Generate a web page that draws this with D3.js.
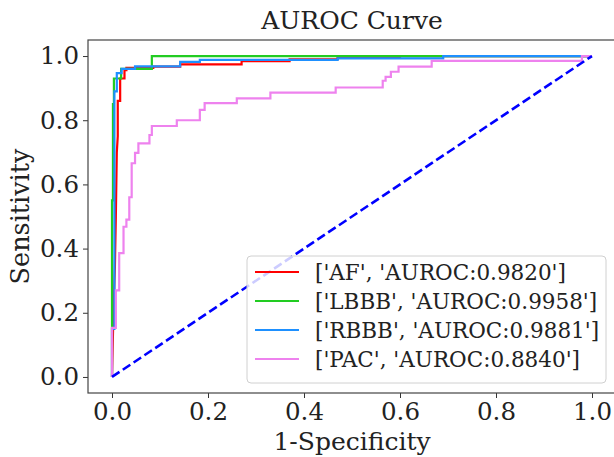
<!DOCTYPE html>
<html>
<head>
<meta charset="utf-8">
<script src="https://cdn.jsdelivr.net/npm/d3@7"></script>
<style>
  body { margin: 0; background: #fff; }
  svg { display: block; font-family: "DejaVu Serif", serif; }
</style>
</head>
<body>
<div id="chart"></div>
<script>
var width = 614, height = 457;
var margin = {top: 40, right: -2, bottom: 64, left: 88};

// ROC step curves: [1-specificity, sensitivity]
var afPts = [[0,0],[0.003,0.2],[0.006,0.34],[0.008,0.5],[0.01,0.7],[0.012,0.75],[0.012,0.86],[0.017,0.86],[0.017,0.93],
  [0.026,0.93],[0.026,0.956],[0.03,0.956],[0.03,0.963],[0.086,0.963],[0.086,0.967],[0.142,0.967],[0.142,0.974],
  [0.27,0.974],[0.27,0.984],[0.37,0.984],[0.37,0.99],[0.47,0.99],[0.47,0.996],[0.6,0.996],[0.6,1],[1,1]];
var lbbbPts = [[0,0],[0,0.55],[0.002,0.55],[0.002,0.85],[0.004,0.85],[0.004,0.93],[0.019,0.93],[0.019,0.96],
  [0.083,0.96],[0.083,1],[1,1]];
var rbbbPts = [[0,0],[0,0.15],[0.005,0.15],[0.005,0.89],[0.01,0.89],[0.01,0.947],[0.02,0.947],[0.02,0.96],
  [0.048,0.96],[0.048,0.968],[0.142,0.968],[0.142,0.982],[0.183,0.982],[0.183,0.988],[0.47,0.988],[0.47,0.993],
  [0.69,0.993],[0.69,1],[1,1]];
var pacPts = [[0,0],[0,0.153],[0.008,0.153],[0.008,0.27],[0.015,0.27],[0.015,0.386],[0.024,0.386],[0.024,0.468],
  [0.03,0.468],[0.03,0.49],[0.036,0.49],[0.036,0.56],[0.041,0.56],[0.041,0.666],[0.048,0.666],[0.048,0.698],
  [0.055,0.698],[0.055,0.728],[0.078,0.728],[0.078,0.754],[0.083,0.754],[0.083,0.782],[0.135,0.782],[0.135,0.8],
  [0.183,0.8],[0.183,0.832],[0.193,0.832],[0.193,0.853],[0.26,0.853],[0.26,0.868],[0.33,0.868],[0.33,0.886],
  [0.466,0.886],[0.466,0.902],[0.564,0.902],[0.564,0.923],[0.57,0.923],[0.57,0.935],[0.581,0.935],[0.581,0.951],
  [0.597,0.951],[0.597,0.967],[0.666,0.967],[0.666,0.985],[0.979,0.985],[0.979,1],[1,1]];
var diagPts = [[0,0],[1,1]];

var seriesNames = ["AF", "LBBB", "RBBB", "PAC"];
var seriesAuc = ["0.9820", "0.9958", "0.9881", "0.8840"];
var seriesColors = ["#ff0000", "#22cc22", "#1e90ff", "#ee82ee"];
var seriesPts = [afPts, lbbbPts, rbbbPts, pacPts];

var xTicks = [0, 0.2, 0.4, 0.6, 0.8, 1.0];
var yTicks = [0, 0.2, 0.4, 0.6, 0.8, 1.0];

var svg = d3.select("#chart").append("svg")
    .attr("width", width)
    .attr("height", height);

var x = d3.scaleLinear().domain([-0.05, 1.05]).range([margin.left, width - margin.right]);
var y = d3.scaleLinear().domain([-0.05, 1.05]).range([height - margin.bottom, margin.top]);

var line = d3.line()
    .x(function(d) { return x(d[0]); })
    .y(function(d) { return y(d[1]); });

var plot = svg.append("g");

seriesPts.forEach(function(pts, i) {
  plot.append("path")
    .datum(pts)
    .attr("d", line)
    .attr("fill", "none")
    .attr("stroke", seriesColors[i])
    .attr("stroke-width", 2.2)
    .attr("stroke-linejoin", "miter");
});

plot.append("path")
  .datum(diagPts)
  .attr("d", line)
  .attr("fill", "none")
  .attr("stroke", "#0000ff")
  .attr("stroke-width", 2.6)
  .attr("stroke-dasharray", "9,4");

// axes
var xAxis = svg.append("g")
    .attr("transform", "translate(0," + (height - margin.bottom) + ")")
    .call(d3.axisBottom(x).tickValues(xTicks).tickFormat(d3.format(".1f")).tickSize(5).tickSizeOuter(0));
var yAxis = svg.append("g")
    .attr("transform", "translate(" + margin.left + ",0)")
    .call(d3.axisLeft(y).tickValues(yTicks).tickFormat(d3.format(".1f")).tickSize(5).tickSizeOuter(0));

[xAxis, yAxis].forEach(function(a) {
  a.select(".domain").remove();
  a.selectAll("line").attr("stroke", "#333");
  a.selectAll("text")
    .attr("font-family", "DejaVu Serif")
    .attr("font-size", 24.5)
    .attr("fill", "#222");
});
xAxis.selectAll("text").attr("dy", "0.77em");
yAxis.selectAll("text").attr("x", -9);

// frame
svg.append("rect")
  .attr("x", margin.left)
  .attr("y", margin.top)
  .attr("width", width - margin.right - margin.left)
  .attr("height", height - margin.bottom - margin.top)
  .attr("fill", "none")
  .attr("stroke", "#444")
  .attr("stroke-width", 1.2);

// title and labels
var cx = (margin.left + width - margin.right) / 2;
svg.append("text")
  .attr("x", cx).attr("y", 29)
  .attr("text-anchor", "middle")
  .attr("font-size", 25)
  .attr("fill", "#222")
  .text("AUROC Curve");

svg.append("text")
  .attr("x", cx).attr("y", 450)
  .attr("text-anchor", "middle")
  .attr("font-size", 25)
  .attr("fill", "#222")
  .text("1-Specificity");

svg.append("text")
  .attr("transform", "translate(29," + ((margin.top + height - margin.bottom) / 2) + ") rotate(-90)")
  .attr("text-anchor", "middle")
  .attr("font-size", 25.5)
  .attr("fill", "#222")
  .text("Sensitivity");

// legend
var legend = svg.append("g");
legend.append("rect")
  .attr("x", 247).attr("y", 256)
  .attr("width", 359).attr("height", 127)
  .attr("rx", 4)
  .attr("fill", "#fff")
  .attr("fill-opacity", 0.8)
  .attr("stroke", "#d0d0d0")
  .attr("stroke-width", 1);

var rows = legend.selectAll("g.row")
  .data(seriesNames).enter()
  .append("g")
  .attr("class", "row")
  .attr("transform", function(d, i) { return "translate(0," + (272 + i * 29) + ")"; });

rows.append("line")
  .attr("x1", 255).attr("x2", 299)
  .attr("stroke", function(d, i) { return seriesColors[i]; })
  .attr("stroke-width", 2.2);

rows.append("text")
  .attr("x", 315)
  .attr("dy", "0.35em")
  .attr("font-size", 21.5)
  .attr("fill", "#222")
  .text(function(d, i) { return "['" + d + "', 'AUROC:" + seriesAuc[i] + "']"; });
</script>
</body>
</html>
